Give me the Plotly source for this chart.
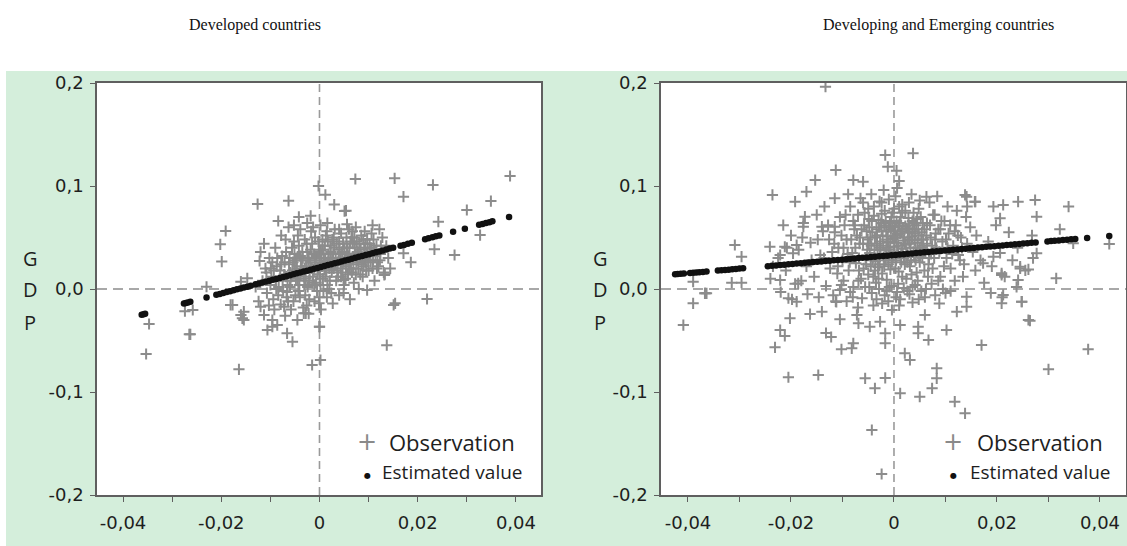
import plotly.graph_objects as go

# ---------------- DATA (values in thousandths: x = exchange-rate shock, y = GDP) -------------
panel_titles = ["Developed countries", "Developing and Emerging countries"]
y_tick_vals = [-0.2, -0.1, 0.0, 0.1, 0.2]
y_tick_text = ["-0,2", "-0,1", "0,0", "0,1", "0,2"]
x_tick_vals = [-0.04, -0.03, -0.02, -0.01, 0.0, 0.01, 0.02, 0.03, 0.04]
x_tick_text = ["-0,04", "", "-0,02", "", "0", "", "0,02", "", "0,04"]

# Developed countries - observations
dev_obs = [
    (-12.6, 82.5), (-6.3, 85.6), (1.2, 91.5), (5.4, 76), (-1.8, 71), (-4.2, 70), (-8.4, 66),
    (-19.1, 56.3), (-20.2, 43.4), (-19.9, 26.6), (-12.2, 27.2), (-26.5, -44), (13.7, -54.5),
    (15.1, -15.5), (17.1, 89.6), (13.2, 13.6), (-23.0, 2.2), (-14.7, 10.4), (7.3, 106.8),
    (15.3, 107.5), (23.1, 101), (38.8, 109.7), (34.9, 85.4), (30.0, 76.7), (24.2, 65.4),
    (5.1, 75.7), (5.6, 62.8), (32.7, 52.4), (23.4, 38.5), (27.5, 33), (18.6, 25.9), (17.1, 34.6),
    (13.3, 14.3), (15.4, -13.9), (21.9, -9.7), (-35.3, -63.1), (-34.7, -34), (-26.3, -44),
    (-25.8, -20.4), (-27.4, -21.5), (-16.4, -78), (-18.1, -15.5), (-16.0, -25.2), (-15.4, -30.1),
    (-12.0, -17.2), (-11.3, -25.2), (-10.6, -39.8), (-9.6, -30.1), (-8.6, -35), (-7.2, -17.2),
    (-6.6, -43), (-5.5, -51.2), (-0.1, -13.9), (0.0, -36.6), (-1.5, -73.8), (0.2, -69),
    (-3.2, -23.6), (-16.0, 7.1), (-17.7, -15.5), (-15.4, -22), (-15.7, -28.5), (-9.6, -36.6),
    (-2.8, -23.6), (0.0, -36.6), (4.9, 8.7), (9.7, -1.0), (-0.2, 100.0), (3.0, 82.0),
    (-11.6, 8), (-11.0, 20), (-10.7, -4), (-10.2, 30), (-9.8, 12), (-9.4, -10), (-9.0, 40),
    (-8.7, 22), (-8.3, 2), (-7.9, -15), (-7.6, 32), (-7.2, 14), (-6.9, 48), (-6.6, -3),
    (-6.2, 24), (-5.9, 8), (-5.6, 40), (-5.3, -12), (-5.0, 18), (-4.7, 30), (-4.4, 52),
    (-4.1, 4), (-3.8, 22), (-3.5, 36), (-3.2, 12), (-2.9, -6), (-2.6, 44), (-2.3, 28),
    (-2.0, 16), (-1.7, 56), (-1.4, 6), (-1.1, 34), (-0.8, 24), (-0.5, -2), (-0.2, 46),
    (0.1, 14), (0.4, 30), (0.7, 38), (1.0, 20), (1.3, 52), (1.6, 4), (1.9, 28), (2.2, 42),
    (2.5, 16), (2.8, 34), (3.1, 58), (3.4, 8), (3.7, 26), (4.0, 46), (4.3, 20), (4.6, 36),
    (4.9, -4), (5.2, 30), (5.5, 50), (5.8, 14), (6.1, 40), (6.4, 24), (6.7, 56), (7.0, 6),
    (7.3, 34), (7.6, 46), (7.9, 20), (8.2, 30), (8.5, 52), (8.8, 12), (9.1, 40), (9.4, 26),
    (9.7, 48), (10.0, 18), (10.3, 36), (10.6, 54), (10.9, 28), (11.2, 8), (11.6, 42),
    (12.0, 22), (12.4, 34), (12.8, 50), (13.1, 16),
    (-10.8, 16), (-9.6, 26), (-8.9, 8), (-8.0, 18), (-7.4, -2), (-6.8, 36), (-6.0, 16),
    (-5.4, 26), (-4.8, 10), (-4.2, 42), (-3.6, 28), (-3.0, 20), (-2.4, 2), (-1.8, 38),
    (-1.2, 18), (-0.6, 32), (0.0, 26), (0.6, 48), (1.2, 12), (1.8, 34), (2.4, 24), (3.0, 40),
    (3.6, 18), (4.2, 30), (4.8, 44), (5.4, 22), (6.0, 32), (6.6, 16), (7.2, 40), (7.8, 28),
    (8.4, 38), (9.0, 22), (9.6, 34), (10.2, 44), (10.8, 20), (11.4, 32),
    (-9.2, -20), (-7.0, -26), (-5.8, -20), (-4.5, -30), (-3.3, -18), (-2.2, -24), (-1.0, -12),
    (0.3, -20), (1.5, -8), (2.7, -14), (4.0, -6), (6.2, -10), (8.0, 0), (-8.4, -6),
    (-6.4, -12), (-4.0, -8), (-2.1, -10), (0.8, -2), (2.0, 0),
    (-7.8, 52), (-6.3, 60), (-5.2, 62), (-3.9, 58), (-2.5, 64), (-1.3, 60), (0.2, 62),
    (1.6, 64), (2.9, 50), (4.4, 54), (6.0, 58), (7.4, 60), (9.2, 56), (10.8, 62), (12.2, 58),
    (-12.4, -12), (-13.0, 2), (-12.0, 36), (-11.3, 44), (-10.3, -16), (14.0, 30), (13.6, 42),
    (14.4, 20),
    (-7.5, 8), (-7.1, 26), (-6.5, 4), (-6.1, 30), (-5.7, 12), (-5.1, 34), (-4.6, 20),
    (-4.3, -2), (-3.9, 14), (-3.4, 30), (-3.1, 4), (-2.7, 22), (-2.5, 36), (-2.1, 8),
    (-1.9, 26), (-1.5, 44), (-1.3, 12), (-0.9, 28), (-0.7, 6), (-0.3, 20), (-0.1, 36),
    (0.2, 4), (0.5, 22), (0.9, 30), (1.1, 42), (1.4, 18), (1.7, 26), (2.1, 8), (2.3, 36),
    (2.6, 48), (2.9, 20), (3.3, 30), (3.5, 44), (3.8, 12), (4.1, 38), (4.5, 26), (4.7, 16),
    (5.1, 40), (5.3, 10), (5.7, 34), (5.9, 24), (6.3, 46), (6.5, 30), (6.9, 20), (7.1, 50),
    (7.5, 26), (7.7, 36), (8.1, 44), (8.3, 14), (8.7, 30), (9.3, 44), (9.5, 18), (9.9, 28),
    (10.5, 40), (11.0, 48), (11.8, 26), (12.5, 42), (-8.6, 30), (-9.3, 18), (-10.0, 4),
    (-6.8, 12), (-6.0, 2), (-5.5, 18), (-5.0, 28), (-4.4, 8), (-3.9, 32), (-3.3, 18),
    (-2.8, 10), (-2.2, 30), (-1.6, 20), (-1.0, 4), (-0.4, 14), (0.3, 38), (0.7, 10),
    (1.2, 28), (1.7, 46), (2.0, 20), (2.6, 30), (3.2, 24), (3.9, 34), (4.4, 12), (4.9, 26),
    (5.6, 40), (6.2, 20), (6.8, 44), (7.4, 14), (8.0, 34), (8.6, 24), (9.2, 30), (9.8, 40),
    (10.4, 26), (11.1, 38), (11.7, 20), (12.3, 28), (-7.8, 24), (-8.8, 0), (-9.9, 20),
    (-5.2, 46), (-3.0, 48), (-0.9, 50), (1.5, 56), (4.0, 58), (6.5, 50), (8.9, 48),
    (-2.6, -16), (0.0, -8), (2.4, -4), (5.0, 4), (-6.7, -8), (-4.9, -6),
]

# Developed countries - estimated values
dev_est_x = [-36.2, -35.8, -35.5, -27.6, -27.2, -26.8, -26.3, -23.0,
             -21.0, -20.3, -19.6, -18.9, -18.2, -17.5, -16.8, -16.1, -15.4, -14.7, -14.0,
             -13.0, -12.3, -11.6, -10.9, -10.2, -9.5, -8.8, -8.1, -7.4, -6.7, -6.0, -5.3,
             -4.6, -3.9, -3.2, -2.5, -1.8, -1.1, -0.4, 0.3, 1.0, 1.7, 2.4, 3.1, 3.8, 4.5,
             5.2, 5.9, 6.6, 7.3, 8.0, 8.7, 9.4, 10.1, 10.8, 11.5, 12.2, 12.9, 13.6, 14.3,
             15.0, 16.5, 17.2, 18.0, 18.8, 21.5, 22.2, 23.0, 23.7, 24.4, 27.2, 29.6, 32.5,
             33.2, 33.9, 34.6, 35.2, 38.6]
dev_est_y = [-25.0, -24.5, -24.1, -14.1, -13.5, -13.0, -12.4, -8.2,
             -5.7, -4.8, -3.9, -3.0, -2.1, -1.2, -0.3, 0.6, 1.4, 2.3, 3.2,
             4.5, 5.4, 6.3, 7.2, 8.0, 8.9, 9.8, 10.7, 11.6, 12.5, 13.4, 14.3,
             15.2, 16.0, 16.9, 17.8, 18.7, 19.6, 20.5, 21.4, 22.3, 23.2, 24.0, 24.9, 25.8, 26.7,
             27.6, 28.5, 29.4, 30.3, 31.2, 32.0, 32.9, 33.8, 34.7, 35.6, 36.5, 37.4, 38.3, 39.2,
             40.1, 42.0, 42.8, 43.9, 44.9, 48.3, 49.2, 50.2, 51.1, 52.0, 55.5, 58.6, 62.3,
             63.2, 64.1, 64.9, 65.7, 70.0]

# Developing and emerging countries - observations
emg_obs = [
    (-13.3, 196.4), (-1.7, 130), (3.7, 131.7), (-1.2, 118.7), (0.5, 114.9), (1.0, 104.8),
    (-11.3, 115.5), (-15.3, 105.8), (-7.9, 105.8), (-6.0, 104.2), (-17.0, 94.5), (-23.6, 91.3),
    (-19.2, 84.8), (-11.5, 88), (6.3, 89.6), (14.1, 89.6), (15.7, 84.8), (24.1, 84.8),
    (19.3, 80), (21.2, 81.6), (-17.3, 70.2), (-17.6, 60.5), (-14.0, 60.5), (-11.5, 60.5),
    (-30.9, 42.7), (-29.6, 31.4), (-24.1, 41), (-21.2, 41), (-18.9, 42.7), (-22.1, 33),
    (-19.6, 34.6), (-29.6, 6.1), (-31.5, 6.1), (-22.1, 8.7), (-18.6, 5.4), (24.5, 21.7),
    (24.1, 8.7), (20.9, 15.2), (19.3, 31.4), (17.3, 25), (33.9, 80), (27.4, 86.4), (27.7, 70.2),
    (32.2, 58), (41.8, 43.7), (34.8, 44.3), (31.5, 10.4), (27.7, 34.6), (24.5, 20), (26.1, 19),
    (20.9, 13.6), (21.2, -5.8), (24.8, -12.3), (13.8, 91.3), (14.2, 80), (15.8, 84.8),
    (20.6, 68.6), (-39.0, 7.1), (-36.4, -4.2), (-39.0, -13.9), (-40.9, -35), (-36.7, -4.2),
    (-23.1, -56.6), (-20.5, -85.7), (-14.7, -83.5), (-22.1, -39.8), (-21.2, -45.6),
    (-20.2, -28.5), (-16.3, -24.3), (-14.0, -22), (-13.2, -42.7), (-12.2, -46.6),
    (-10.2, -58.5), (-8.2, -57.6), (-7.9, -52.7), (-10.5, -29.4), (-7.2, -25.2), (-6.9, -33.3),
    (-4.7, -36.6), (-2.7, -31.7), (-1.7, -43), (-1.7, -52.7), (1.2, -35), (-0.4, -20.4),
    (2.1, -62.4), (3.1, -68.9), (4.7, -36.6), (4.7, -43), (6.7, -49.5), (6.0, -25.2),
    (10.2, -39.8), (8.3, -77), (8.3, -86.7), (7.4, -96.4), (-5.6, -86.7), (-1.7, -86.3),
    (-3.7, -96.4), (1.2, -101.3), (5.0, -104.6), (11.8, -109.4), (13.8, -120.7),
    (-4.3, -136.9), (-2.4, -179.6), (17.0, -54.4), (12.2, -22), (14.1, -17.2), (14.1, -7.5),
    (20.9, -13.9), (24.8, -12.3), (26.1, -30.1), (26.4, -30.8), (30.0, -78), (37.7, -58.5),
    (-36.7, -4.2), (-20.5, -9), (-18.9, -12.3), (-11.3, -12.0), (-11.2, -12.6),
    (-5.8, 62), (-5.1, 48), (-4.7, 35), (-4.2, 55), (-3.9, 71), (-3.6, 27), (-3.3, 44),
    (-2.9, 60), (-2.6, 38), (-2.2, 52), (-1.9, 22), (-1.6, 66), (-1.3, 45), (-0.9, 33),
    (-0.6, 58), (-0.3, 74), (0.1, 41), (0.4, 28), (0.7, 53), (1.1, 64), (1.4, 36), (1.8, 47),
    (2.1, 24), (2.5, 59), (2.8, 69), (3.2, 40), (3.5, 51), (3.9, 31), (4.3, 62), (4.6, 45),
    (5.0, 26), (5.4, 55), (5.8, 38),
    (-5.5, 30), (-4.9, 68), (-4.4, 42), (-3.7, 50), (-3.1, 21), (-2.4, 73), (-2.0, 31),
    (-1.5, 56), (-1.1, 40), (-0.7, 19), (-0.2, 49), (0.2, 61), (0.6, 35), (1.0, 80),
    (1.5, 56), (1.9, 30), (2.3, 43), (2.7, 50), (3.1, 22), (3.6, 66), (4.0, 47), (4.5, 35),
    (5.2, 70), (5.7, 48),
    (-6.0, 44), (-5.3, 56), (-4.5, 22), (-3.8, 38), (-3.0, 67), (-2.7, 46), (-2.3, 15),
    (-1.7, 34), (-1.2, 51), (-0.8, 64), (-0.4, 26), (0.0, 56), (0.5, 45), (0.9, 17),
    (1.3, 70), (1.7, 39), (2.2, 61), (2.6, 33), (3.0, 55), (3.4, 14), (3.8, 74), (4.2, 28),
    (4.8, 52), (5.5, 42),
    (-4.0, 12), (-2.8, 85), (-1.0, 87), (0.3, 90), (1.6, 82), (2.9, 84), (-3.5, 6), (-1.4, 9),
    (0.8, 5), (2.4, 10), (4.4, 16), (-5.0, 14), (5.9, 18),
    (-11.5, 55), (-10.8, 40), (-10.5, 70), (-10.0, 28), (-9.6, 62), (-9.2, 48), (-8.8, 18),
    (-8.5, 80), (-8.1, 35), (-7.7, 58), (-7.4, 25), (-7.0, 72), (-6.7, 44), (-6.4, 10),
    (-6.5, 88), (-9.8, 8), (-11.0, 15), (-12.0, 36), (-7.9, 2), (-8.9, 92),
    (6.4, 64), (6.8, 30), (7.1, 50), (7.5, 20), (7.9, 72), (8.2, 40), (8.6, 58), (9.0, 12),
    (9.4, 46), (9.8, 66), (10.2, 30), (10.6, 54), (11.0, 20), (11.5, 42), (12.0, 62),
    (12.5, 33), (13.0, 50), (13.6, 24), (14.2, 44), (14.8, 60), (15.3, 36), (16.0, 52),
    (16.8, 28), (6.9, 84), (8.4, 90), (10.4, 80), (12.2, 76), (14.0, 70), (7.3, 5), (9.5, 0),
    (11.8, 8), (13.4, 12), (15.8, 18),
    (-5.6, 2), (-4.3, -4), (-2.9, 0), (-1.8, -6), (-0.5, 3), (0.6, -3), (1.9, 1), (3.0, -5),
    (4.1, 4), (5.3, -2), (-3.4, -10), (-1.1, -12), (1.2, -10), (3.6, -13), (6.0, -8),
    (-6.2, -9), (8.0, -6), (10.0, -4), (-8.5, -3), (-10.5, -1),
    (-24.0, 10), (-22.5, 30), (-21.0, 18), (-20.0, 52), (-19.2, 5), (-18.5, 38), (-17.6, 64),
    (-17.0, 22), (-16.2, 45), (-15.5, 12), (-15.0, 72), (-14.3, 33), (-13.8, 56), (-13.2, 3),
    (-12.6, 48), (-12.4, 20), (-16.8, -5), (-14.6, -8), (-19.8, -10), (-22.0, -3),
    (-23.5, 22), (-18.0, 8), (-13.5, 80), (-21.5, 62), (-11.8, -6),
    (17.5, 6), (18.3, 46), (19.0, 22), (19.8, 62), (20.6, 35), (21.5, 12), (22.3, 55),
    (23.0, 28), (24.0, 40), (25.5, 18), (26.8, 52), (18.8, -4), (21.0, -8), (23.8, 2),
    (27.0, 30),
    (-7.5, 40), (-7.2, 52), (-6.8, 30), (-6.3, 58), (-5.9, 20), (-5.7, 74), (-5.2, 38),
    (-4.8, 60), (-4.6, 50), (-4.1, 28), (-3.9, 80), (-3.4, 58), (-3.2, 34), (-2.8, 24),
    (-2.5, 64), (-2.1, 42), (-1.8, 76), (-1.6, 28), (-1.4, 48), (-1.0, 60), (-0.8, 38),
    (-0.5, 70), (-0.1, 32), (0.1, 52), (0.3, 20), (0.5, 66), (0.8, 42), (1.2, 54), (1.4, 26),
    (1.6, 74), (2.0, 50), (2.4, 36), (2.8, 58), (3.0, 44), (3.3, 28), (3.6, 56), (3.9, 64),
    (4.2, 40), (4.7, 58), (4.9, 32), (5.3, 48), (5.6, 64), (6.1, 36), (6.3, 52), (6.7, 24),
    (7.0, 62), (7.4, 42), (7.8, 30), (8.1, 54), (8.8, 36), (9.2, 66), (9.7, 22), (10.1, 48),
    (10.9, 62), (11.3, 34), (12.4, 52), (13.2, 40), (-7.9, 66), (-8.3, 48), (-9.0, 34),
    (-9.4, 72), (-10.2, 52), (-10.9, 22), (-11.6, 44), (-6.0, 84), (-4.4, 92), (-2.0, 96),
    (0.6, 98), (3.4, 92), (5.0, 86), (-3.0, 10), (-0.9, 2), (1.6, 12), (4.6, 8), (6.6, 12),
    (-6.8, 18), (-4.8, 2), (2.6, -2), (-2.3, -14), (0.4, -8), (4.8, -10), (-7.0, -18),
    (-9.2, -12), (8.8, -14),
    (-5.4, 24), (-4.9, 44), (-4.3, 66), (-3.7, 18), (-3.3, 52), (-2.8, 40), (-2.4, 56),
    (-1.9, 62), (-1.5, 38), (-1.1, 24), (-0.7, 46), (-0.3, 60), (0.0, 36), (0.4, 50),
    (0.9, 62), (1.3, 30), (1.7, 58), (2.1, 44), (2.6, 26), (2.9, 62), (3.4, 48), (3.8, 36),
    (4.1, 54), (4.5, 68), (5.0, 40), (5.5, 30), (5.9, 58), (6.4, 44), (7.2, 34), (8.0, 48),
    (-6.6, 50), (-7.6, 62), (-8.6, 26), (-9.8, 40), (-6.9, 8), (-5.0, 78), (-2.4, 84),
    (0.0, 78), (2.2, 76), (4.8, 78), (7.6, 72), (9.0, 58), (10.4, 40), (11.8, 56),
    (12.8, 28), (-12.8, 62), (-13.6, 30), (-14.8, 48), (-10.2, 4), (-8.0, -8), (-4.0, -16),
    (-1.4, -2), (1.0, -16), (3.6, 2), (6.2, 0), (8.6, 8), (11.0, -2), (-16.0, 28),
    (-17.8, 50), (-20.8, 40),
]

# Developing and emerging countries - estimated values
emg_est_x = [-42.5, -42.0, -41.4, -40.8, -39.6, -39.0, -38.4, -37.8, -37.1, -36.4,
             -34.2, -33.5, -32.8, -32.1, -31.4, -30.7, -30.0, -29.3,
             -24.5, -23.7, -22.9, -22.1, -21.3, -20.5, -19.7, -18.9, -18.1, -17.3, -16.5,
             -15.7, -14.9, -14.1, -13.3, -12.5, -11.7, -10.9, -10.1, -9.3, -8.5, -7.7, -6.9,
             -6.1, -5.3, -4.5, -3.7, -2.9, -2.1, -1.3, -0.5, 0.3, 1.1, 1.9, 2.7, 3.5, 4.3,
             5.1, 5.9, 6.7, 7.5, 8.3, 9.1, 9.9, 10.7, 11.5, 12.3, 13.1, 13.9, 14.7, 15.5,
             16.3, 17.1, 17.9, 18.7, 19.5, 20.3, 21.1, 21.9, 22.7, 23.5, 24.3, 25.1, 25.9,
             26.7, 27.5, 29.8, 30.5, 31.2, 32.0, 32.8, 33.6, 34.4, 35.2, 37.5, 41.8]
emg_est_y = [14.3, 14.5, 14.7, 15.0, 15.5, 15.8, 16.1, 16.3, 16.6, 16.9,
             17.9, 18.2, 18.5, 18.8, 19.2, 19.5, 19.8, 20.1,
             22.2, 22.5, 22.9, 23.3, 23.6, 24.0, 24.3, 24.7, 25.0, 25.4, 25.7,
             26.1, 26.4, 26.8, 27.1, 27.5, 27.8, 28.2, 28.5, 28.9, 29.3, 29.6, 30.0,
             30.3, 30.7, 31.0, 31.4, 31.7, 32.1, 32.4, 32.8, 33.1, 33.5, 33.8, 34.2, 34.5, 34.9,
             35.2, 35.6, 36.0, 36.3, 36.7, 37.0, 37.4, 37.7, 38.1, 38.4, 38.8, 39.1, 39.5, 39.8,
             40.2, 40.5, 40.9, 41.2, 41.6, 42.0, 42.3, 42.7, 43.0, 43.4, 43.7, 44.1, 44.4,
             44.8, 45.1, 46.1, 46.5, 46.8, 47.1, 47.5, 47.8, 48.2, 48.5, 49.5, 51.4]

legend_labels = ["Observation", "Estimated value"]

# ---------------- FIGURE ----------------
W, H = 1127, 546
GREEN = "#d4eedb"
OBS_COLOR = "#8c8c8c"
AXIS_COLOR = "#5f5f5f"
TEXT_COLOR = "#1e1e1e"


def px_x(p):
    return p / W


def px_y(p):
    return 1 - p / H


fig = go.Figure()

panels = [
    dict(obs=dev_obs, ex=dev_est_x, ey=dev_est_y, xa="x", ya="y",
         dom=(97, 541), xr=[-0.0453, 0.0451]),
    dict(obs=emg_obs, ex=emg_est_x, ey=emg_est_y, xa="x2", ya="y2",
         dom=(661, 1126), xr=[-0.04524, 0.04505]),
]

for p in panels:
    ox = [a / 1000 for a, b in p["obs"]]
    oy = [b / 1000 for a, b in p["obs"]]
    fig.add_trace(go.Scatter(
        x=ox, y=oy, mode="markers", xaxis=p["xa"], yaxis=p["ya"], showlegend=False,
        marker=dict(symbol="cross-thin", size=8, color=OBS_COLOR,
                    line=dict(width=2, color=OBS_COLOR)),
        hoverinfo="skip"))
    fig.add_trace(go.Scatter(
        x=[v / 1000 for v in p["ex"]], y=[v / 1000 for v in p["ey"]], mode="markers",
        xaxis=p["xa"], yaxis=p["ya"], showlegend=False,
        marker=dict(symbol="circle", size=6.5, color="#111111"),
        hoverinfo="skip"))

y_top, y_bot = 83, 495
common_axis = dict(showgrid=False, zeroline=False, showline=True, linecolor=AXIS_COLOR,
                   linewidth=1.5, mirror=True, ticks="outside", ticklen=5,
                   tickcolor=AXIS_COLOR, tickwidth=1.2,
                   tickfont=dict(family="DejaVu Sans", size=18, color=TEXT_COLOR))

layout_axes = {}
for i, p in enumerate(panels):
    sfx = "" if i == 0 else "2"
    layout_axes["xaxis" + sfx] = dict(
        common_axis, domain=[px_x(p["dom"][0]), px_x(p["dom"][1])], range=p["xr"],
        tickmode="array", tickvals=x_tick_vals, ticktext=x_tick_text,
        anchor="y" + sfx, ticklabelstandoff=6)
    layout_axes["yaxis" + sfx] = dict(
        common_axis, domain=[px_y(y_bot), px_y(y_top)], range=[-0.2, 0.2],
        tickmode="array", tickvals=y_tick_vals, ticktext=y_tick_text,
        anchor="x" + sfx, ticklabelstandoff=3)

shapes = [
    # white band above the green backdrop and thin white strip on the left
    dict(type="rect", xref="paper", yref="paper", x0=0, x1=1.0, y0=px_y(71), y1=1.0,
         fillcolor="white", line=dict(width=0), layer="below"),
    dict(type="rect", xref="paper", yref="paper", x0=0, x1=px_x(6), y0=0, y1=1.0,
         fillcolor="white", line=dict(width=0), layer="below"),
]
for i, p in enumerate(panels):
    sfx = "" if i == 0 else "2"
    shapes.append(dict(type="line", xref="x" + sfx, yref="y" + sfx, x0=0, x1=0, y0=-0.2, y1=0.2,
                       line=dict(color="#9a9a9a", width=1.6, dash="8px,5px"), layer="below"))
    shapes.append(dict(type="line", xref="x" + sfx, yref="y" + sfx, x0=p["xr"][0], x1=p["xr"][1],
                       y0=0, y1=0,
                       line=dict(color="#a8a8a8", width=1.8, dash="10px,6px"), layer="below"))

annotations = []
title_centers = [255, 938]
for t, cx in zip(panel_titles, title_centers):
    annotations.append(dict(text=t, xref="paper", yref="paper", x=px_x(cx), y=px_y(25),
                            showarrow=False, xanchor="center", yanchor="middle",
                            font=dict(family="Liberation Serif", size=16, color="#111111")))

gdp_x = [30, 600]
for gx in gdp_x:
    for letter, gy in zip("GDP", [258, 289, 322]):
        annotations.append(dict(text=letter, xref="paper", yref="paper", x=px_x(gx), y=px_y(gy),
                                showarrow=False, xanchor="center", yanchor="middle",
                                font=dict(family="Open Sans", size=20, color=TEXT_COLOR)))

legend_pos = [(367, 387, 380), (953, 975, 968)]
for sym_x, obs_x, est_x in legend_pos:
    annotations.append(dict(text="+", xref="paper", yref="paper", x=px_x(sym_x), y=px_y(442),
                            showarrow=False, xanchor="center", yanchor="middle",
                            font=dict(family="DejaVu Sans", size=24, color="#8a8a8a")))
    annotations.append(dict(text=legend_labels[0], xref="paper", yref="paper", x=px_x(obs_x),
                            y=px_y(442), showarrow=False, xanchor="left", yanchor="middle",
                            font=dict(family="Open Sans", size=22, color=TEXT_COLOR)))
    annotations.append(dict(text="\u25cf", xref="paper", yref="paper", x=px_x(sym_x), y=px_y(475),
                            showarrow=False, xanchor="center", yanchor="middle",
                            font=dict(family="DejaVu Sans", size=8, color="#111111")))
    annotations.append(dict(text=legend_labels[1], xref="paper", yref="paper", x=px_x(est_x),
                            y=px_y(472), showarrow=False, xanchor="left", yanchor="middle",
                            font=dict(family="Open Sans", size=19, color=TEXT_COLOR)))

fig.update_layout(
    width=W, height=H, margin=dict(l=0, r=0, t=0, b=0, autoexpand=False),
    paper_bgcolor=GREEN, plot_bgcolor="white", showlegend=False,
    shapes=shapes, annotations=annotations, **layout_axes)

# remove the default 8px page margin so the figure fills the browser window exactly
fig.write_html("out.html", config={"displayModeBar": False},
               post_script="document.body.style.margin='0';")
